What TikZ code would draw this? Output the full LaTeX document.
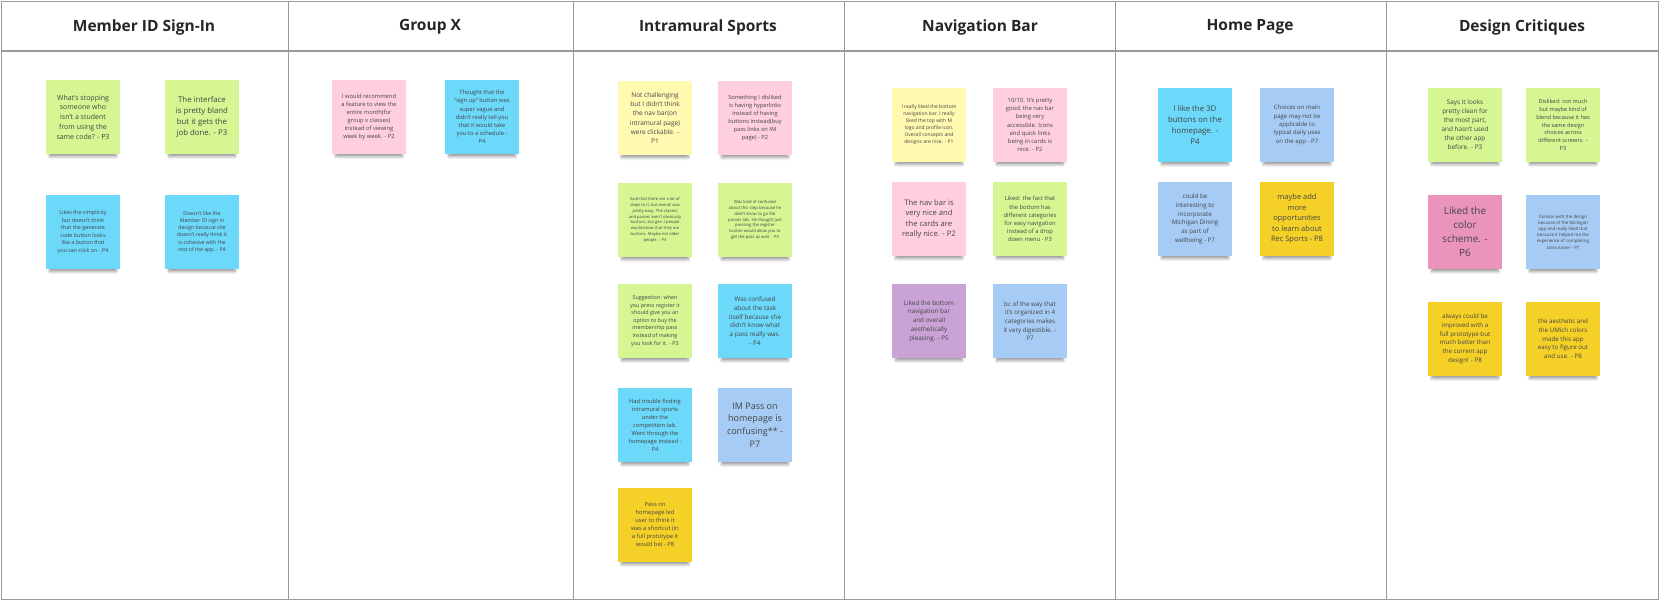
\documentclass[tikz,border=0pt]{standalone}
\usepackage{fontspec}
\setmainfont{Open Sans}
\usetikzlibrary{shadows.blur}

\tikzset{
    sticky/.style={minimum width=74pt, minimum height=74pt, inner sep=1pt, align=center, text=textColour,
        blur shadow={shadow xshift=0pt, shadow yshift=-7pt, shadow scale=0.9, shadow blur radius=3pt, shadow opacity=40}},
    fs/.style={font={\pgfmathsetmacro\noteLead{1.4*#1}\fontsize{#1}{\noteLead}\selectfont}},
    heading/.style={font=\fontsize{15.5}{18}\selectfont\bfseries, text=black!85}
}

\begin{document}
\begin{tikzpicture}[x=1pt, y=-1pt]
    \definecolor{lineColour}{HTML}{9A9A9A}
    \definecolor{textColour}{HTML}{444444}
    \definecolor{noteGreen}{HTML}{D5F692}
    \definecolor{noteCyan}{HTML}{6CD8FA}
    \definecolor{noteBlue}{HTML}{A6CCF5}
    \definecolor{notePaleYellow}{HTML}{FFF9B1}
    \definecolor{noteYellow}{HTML}{F5D128}
    \definecolor{notePalePink}{HTML}{FFCEE0}
    \definecolor{notePink}{HTML}{EA94BB}
    \definecolor{noteViolet}{HTML}{C9A2D6}

    \useasboundingbox (0,0) rectangle (1660,602);

    % Draw table
    \draw[lineColour] (1,1) rectangle (1658,599);
    \draw[lineColour, line width=1.5pt] (1,51) -- (1658,51);
    \foreach \x in {288,573,844,1115,1386}
        \draw[lineColour] (\x,1) -- (\x,599);

    % Column headings
    \foreach \x/\name [count=\i] in {144/Member ID Sign-In, 430/Group X, 708/Intramural Sports,
            980/Navigation Bar, 1250/Home Page, 1522/Design Critiques}
        \node[heading] (head\i) at (\x,27) {\name};

    % Member ID Sign-In
    \node[sticky, fill=noteGreen, fs=7] (n11) at (83,117) {What's stopping\\someone who\\isn't a student\\from using the\\same code? - P3};
    \node[sticky, fill=noteGreen, fs=7.8] (n12) at (202,117) {The interface\\is pretty bland\\but it gets the\\job done. - P3};
    \node[sticky, fill=noteCyan, fs=5.4] (n13) at (83,232) {Likes the simplicity\\but doesn't think\\that the generate\\code button looks\\like a button that\\you can click on - P4};
    \node[sticky, fill=noteCyan, fs=5.2] (n14) at (202,232) {Doesn't like the\\Member ID sign in\\design because she\\doesn't really think it\\is cohesive with the\\rest of the app. - P4};

    % Group X
    \node[sticky, fill=notePalePink, fs=5.8] (n21) at (369,117) {I would recommend\\a feature to view the\\entire month(for\\group x classes)\\instead of viewing\\week by week. - P2};
    \node[sticky, fill=noteCyan, fs=5.8] (n22) at (482,117) {Thought that the\\``sign up'' button was\\super vague and\\didn't really tell you\\that it would take\\you to a schedule -\\P4};

    % Intramural Sports
    \node[sticky, fill=notePaleYellow, fs=6.5] (n31) at (655,118) {Not challenging\\but I didn't think\\the nav bar(on\\intramural page)\\were clickable. -\\P1};
    \node[sticky, fill=notePalePink, fs=5.7] (n32) at (755,118) {Something I disliked\\is having hyperlinks\\instead of having\\buttons instead(buy\\pass links on IM\\page) - P2};
    \node[sticky, fill=noteGreen, fs=4.1] (n33) at (655,220) {Said that there are a lot of\\steps to it, but overall was\\pretty easy. The classes\\and passes aren't obviously\\buttons, but gen z people\\would know that they are\\buttons. Maybe not older\\people. - P3};
    \node[sticky, fill=noteGreen, fs=4.2] (n34) at (755,220) {Was kind of confused\\about this step because he\\didn't know to go the\\passes tab. He thought just\\pressing the register\\button would allow you to\\get the pass as well. - P3};
    \node[sticky, fill=noteGreen, fs=5.4] (n35) at (655,321) {Suggestion: when\\you press register it\\should give you an\\option to buy the\\membership pass\\instead of making\\you look for it. - P3};
    \node[sticky, fill=noteCyan, fs=6.3] (n36) at (755,321) {Was confused\\about the task\\itself because she\\didn't know what\\a pass really was.\\- P4};
    \node[sticky, fill=noteCyan, fs=5.7] (n37) at (655,425) {Had trouble finding\\intramural sports\\under the\\competition tab.\\Went through the\\homepage instead -\\P4};
    \node[sticky, fill=noteBlue, fs=9] (n38) at (755,425) {IM Pass on\\homepage is\\confusing** -\\P7};
    \node[sticky, fill=noteYellow, fs=5.8] (n39) at (655,525) {Pass on\\homepage led\\user to think it\\was a shortcut (in\\a full prototype it\\would be) - P8};

    % Navigation Bar
    \node[sticky, fill=notePaleYellow, fs=5] (n41) at (929,125) {I really liked the bottom\\navigation bar, I really\\liked the top with M\\logo and profile icon.\\Overall concepts and\\designs are nice. - P1};
    \node[sticky, fill=notePalePink, fs=5.9] (n42) at (1030,125) {10/10. It's pretty\\good, the nav bar\\being very\\accessible. Icons\\and quick links\\being in cards is\\nice. - P2};
    \node[sticky, fill=notePalePink, fs=7.6] (n43) at (929,219) {The nav bar is\\very nice and\\the cards are\\really nice. - P2};
    \node[sticky, fill=noteGreen, fs=5.8] (n44) at (1030,219) {Liked: the fact that\\the bottom has\\different categories\\for easy navigation\\instead of a drop\\down menu - P3};
    \node[sticky, fill=noteViolet, fs=6.3] (n45) at (929,321) {Liked the bottom\\navigation bar\\and overall\\aesthetically\\pleasing. - P5};
    \node[sticky, fill=noteBlue, fs=6.2] (n46) at (1030,321) {bc of the way that\\it's organized in 4\\categories makes\\it very digestible. -\\P7};

    % Home Page
    \node[sticky, fill=noteCyan, fs=7.8] (n51) at (1195,125) {I like the 3D\\buttons on the\\homepage. -\\P4};
    \node[sticky, fill=noteBlue, fs=6] (n52) at (1297,125) {Choices on main\\page may not be\\applicable to\\typical daily uses\\on the app - P7};
    \node[sticky, fill=noteBlue, fs=6.2] (n53) at (1195,219) {could be\\interesting to\\incorporate\\Michigan Dining\\as part of\\wellbeing - P7};
    \node[sticky, fill=noteYellow, fs=7.5] (n54) at (1297,219) {maybe add\\more\\opportunities\\to learn about\\Rec Sports - P8};

    % Design Critiques
    \node[sticky, fill=noteGreen, fs=6.4] (n61) at (1465,125) {Says it looks\\pretty clean for\\the most part,\\and hasn't used\\the other app\\before. - P3};
    \node[sticky, fill=noteGreen, fs=5.6] (n62) at (1563,125) {Disliked: not much\\but maybe kind of\\blend because it has\\the same design\\choices across\\different screens. -\\P3};
    \node[sticky, fill=notePink, fs=10] (n63) at (1465,232) {Liked the\\color\\scheme. -\\P6};
    \node[sticky, fill=noteBlue, fs=4.4] (n64) at (1563,232) {familiar with the design\\because of the Michigan\\app and really liked that\\because it helped me the\\experience of completing\\tasks easier - P7};
    \node[sticky, fill=noteYellow, fs=6.2] (n65) at (1465,339) {always could be\\improved with a\\full prototype but\\much better than\\the current app\\design! - P8};
    \node[sticky, fill=noteYellow, fs=6.2] (n66) at (1563,339) {the aesthetic and\\the UMich colors\\made this app\\easy to figure out\\and use. - P8};

\end{tikzpicture}
\end{document}
